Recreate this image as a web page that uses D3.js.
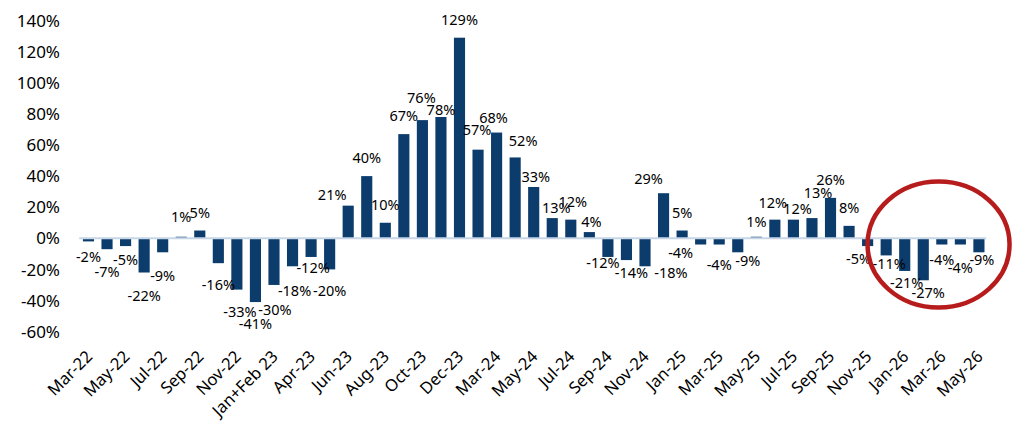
<!DOCTYPE html>
<html>
<head>
<meta charset="utf-8">
<script src="https://cdn.jsdelivr.net/npm/d3@7"></script>
<style>
  body { margin: 0; background: #fff; }
  text { font-family: "Noto Sans", "DejaVu Sans", sans-serif; fill: #000; }
</style>
</head>
<body>
<script>
//Width and height
var w = 1020;
var h = 433;

//Months (Jan and Feb are merged in 2023 and 2024)
var months = ["Mar-22", "Apr-22", "May-22", "Jun-22", "Jul-22", "Aug-22", "Sep-22", "Oct-22",
              "Nov-22", "Dec-22", "Jan+Feb 23", "Mar-23", "Apr-23", "May-23", "Jun-23", "Jul-23",
              "Aug-23", "Sep-23", "Oct-23", "Nov-23", "Dec-23", "Jan+Feb 24", "Mar-24", "Apr-24",
              "May-24", "Jun-24", "Jul-24", "Aug-24", "Sep-24", "Oct-24", "Nov-24", "Dec-24",
              "Jan-25", "Feb-25", "Mar-25", "Apr-25", "May-25", "Jun-25", "Jul-25", "Aug-25",
              "Sep-25", "Oct-25", "Nov-25", "Dec-25", "Jan-26", "Feb-26", "Mar-26", "Apr-26", "May-26"];

//Year on year change, in percent
var change = [-2, -7, -5, -22, -9, 1, 5, -16, -33, -41, -30, -18, -12, -20, 21, 40, 10, 67, 76, 78,
              129, 57, 68, 52, 33, 13, 12, 4, -12, -14, -18, 29, 5, -4, -4, -9, 1, 12, 12, 13,
              26, 8, -5, -11, -21, -27, -4, -4, -9];

//Y axis ticks
var yTicks = [-60, -40, -20, 0, 20, 40, 60, 80, 100, 120, 140];

//Months flagged by the red circle
var flagged = ["Dec-25", "May-26"];

//Hand nudges of some data labels [dx, dy], the way they sit in the original
var labelNudge = {
    0: [0, -6], 1: [0, 1], 2: [0, -8], 3: [0, 1], 4: [0, 2], 5: [0, -2],
    8: [3, 0], 10: [1, 3], 11: [2, 3], 12: [2, -11],
    14: [-16, 7], 18: [-1, -4], 19: [0, 11], 21: [-1, -2], 22: [-3, 3], 23: [8, 2],
    24: [2, 8], 25: [4, 8], 26: [2, 0], 27: [2, 8],
    28: [-5, -16], 29: [5, -9], 30: [26, -15], 31: [-15, 4], 33: [-20, -14], 34: [0, -2],
    35: [10, -13], 36: [0, 3], 37: [-2, 1], 38: [4, 7], 39: [6, -7],
    42: [-9, -9], 43: [3, -13], 44: [2, -10], 45: [5, -9], 46: [0, -7], 47: [0, 1], 48: [3, -14]
};

var data = months.map(function(m, i) { return {month: m, value: change[i]}; });

var svg = d3.select("body")
            .append("svg")
            .attr("width", w)
            .attr("height", h);

var x = d3.scaleBand()
          .domain(months)
          .range([79.2, 988.2])
          .paddingInner(0.4)
          .paddingOuter(0.2);

var y = d3.scaleLinear()
          .domain([-60, 140])
          .range([331.6, 20.6]);

//Y axis labels only, no line and no grid
svg.append("g")
   .selectAll("text")
   .data(yTicks)
   .enter()
   .append("text")
   .attr("x", 60)
   .attr("y", function(d) { return y(d); })
   .attr("dy", "0.36em")
   .attr("text-anchor", "end")
   .style("font-size", "17px")
   .text(function(d) { return d + "%"; });

//Bars
svg.selectAll("rect.bar")
   .data(data)
   .enter()
   .append("rect")
   .attr("class", "bar")
   .attr("x", function(d) { return x(d.month); })
   .attr("width", x.bandwidth())
   .attr("y", function(d) { return y(Math.max(0, d.value)); })
   .attr("height", function(d) { return Math.abs(y(d.value) - y(0)); })
   .attr("fill", "#0c3c6c");

//Zero line
svg.append("line")
   .attr("x1", x.range()[0])
   .attr("x2", x.range()[1] - 2)
   .attr("y1", y(0))
   .attr("y2", y(0))
   .attr("stroke", "#c6d6e6")
   .attr("stroke-width", 2);

//Data labels
svg.selectAll("text.val")
   .data(data)
   .enter()
   .append("text")
   .attr("class", "val")
   .attr("x", function(d, i) {
       var n = labelNudge[i] || [0, 0];
       return x(d.month) + x.bandwidth() / 2 + n[0];
   })
   .attr("y", function(d, i) {
       var n = labelNudge[i] || [0, 0];
       return (d.value >= 0 ? y(d.value) - 13 : y(d.value) + 27) + n[1];
   })
   .attr("text-anchor", "middle")
   .style("font-size", "14.5px")
   .text(function(d) { return d.value + "%"; });

//X axis, every second month
var xAxis = svg.append("g")
   .attr("transform", "translate(0," + y(-60) + ")")
   .call(d3.axisBottom(x)
       .tickSize(0)
       .tickValues(months.filter(function(d, i) { return i % 2 === 0; })));

xAxis.select(".domain").remove();

xAxis.selectAll("text")
   .attr("x", 0)
   .attr("y", 0)
   .attr("dy", 0)
   .attr("transform", "translate(5,26) rotate(-45)")
   .attr("text-anchor", "end")
   .attr("fill", "#000")
   .style("font-size", "16.5px")
   .style("font-family", "\"Noto Sans\", \"DejaVu Sans\", sans-serif");

//Red circle round the latest months
var cx = (x(flagged[0]) + x(flagged[1]) + x.bandwidth()) / 2 + 6;
svg.append("ellipse")
   .attr("cx", cx)
   .attr("cy", y(-4))
   .attr("rx", 71)
   .attr("ry", 63)
   .attr("fill", "none")
   .attr("stroke", "#b71c1c")
   .attr("stroke-width", 4.5);
</script>
</body>
</html>
